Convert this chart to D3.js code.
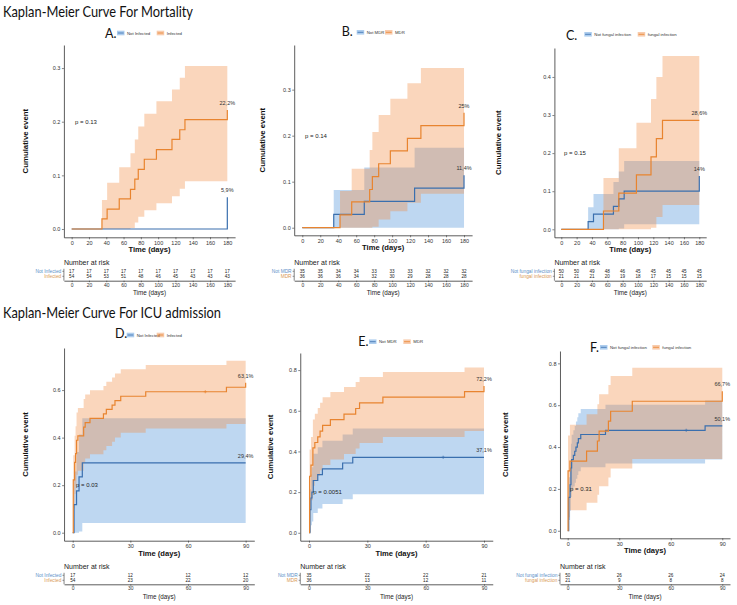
<!DOCTYPE html>
<html>
<head>
<meta charset="utf-8">
<script src="https://cdnjs.cloudflare.com/ajax/libs/d3/7.8.5/d3.min.js"></script>
<style>
  body { margin: 0; background: #fff; }
  svg { display: block; }
  text { font-family: "Liberation Sans", Arial, sans-serif; }
</style>
</head>
<body>
<svg id="fig" width="737" height="605"></svg>
<script>
// ---- tick labels ----
const mortTicks = [0, 20, 40, 60, 80, 100, 120, 140, 160, 180];
const icuTicks = [0, 30, 60, 90];

// ---- A: mortality, infected vs not ----
const aNotT = [0, 180];
const aNotEst = [0, 0.059];
const aNotLo = [0, 0];
const aNotHi = [0, 0];
const aInfT = [0, 35, 41, 55, 68, 73, 77, 84, 98, 116, 125, 131, 180];
const aInfEst = [0, 0.019, 0.037, 0.056, 0.074, 0.093, 0.111, 0.130, 0.148, 0.167, 0.185, 0.204, 0.222];
const aInfLo = [0, 0, 0, 0, 0.002, 0.012, 0.023, 0.035, 0.048, 0.061, 0.075, 0.089, 0.089];
const aInfHi = [0, 0.054, 0.086, 0.115, 0.141, 0.167, 0.191, 0.215, 0.238, 0.260, 0.282, 0.304, 0.304];
const aRiskNot = [17, 17, 17, 17, 17, 17, 17, 17, 17, 17];
const aRiskInf = [54, 54, 53, 51, 48, 46, 45, 43, 43, 43];

// ---- B: mortality, MDR ----
const bNotT = [0, 35, 69, 125, 180];
const bNotEst = [0, 0.029, 0.057, 0.086, 0.114];
const bNotLo = [0, 0, 0, 0, 0];
const bNotHi = [0, 0.082, 0.131, 0.174, 0.174];
const bMdrT = [0, 42, 55, 75, 78, 85, 98, 117, 132, 180];
const bMdrEst = [0, 0.028, 0.056, 0.083, 0.111, 0.139, 0.167, 0.194, 0.222, 0.25];
const bMdrLo = [0, 0, 0, 0, 0.002, 0.018, 0.036, 0.054, 0.074, 0.074];
const bMdrHi = [0, 0.080, 0.128, 0.169, 0.208, 0.245, 0.280, 0.314, 0.347, 0.347];
const bRiskNot = [35, 35, 34, 34, 33, 33, 33, 32, 32, 32];
const bRiskMdr = [36, 36, 36, 34, 32, 30, 29, 28, 28, 28];

// ---- C: mortality, fungal ----
const cNotT = [0, 35, 42, 68, 75, 82, 180];
const cNotEst = [0, 0.02, 0.04, 0.06, 0.08, 0.10, 0.14];
const cNotLo = [0, 0, 0, 0, 0.002, 0.013, 0.013];
const cNotHi = [0, 0.058, 0.093, 0.124, 0.152, 0.179, 0.179];
const cFunT = [0, 55, 75, 98, 117, 124, 132, 180];
const cFunEst = [0, 0.048, 0.095, 0.143, 0.190, 0.238, 0.286, 0.286];
const cFunLo = [0, 0, 0, 0, 0.004, 0.032, 0.064, 0.064];
const cFunHi = [0, 0.135, 0.213, 0.280, 0.342, 0.400, 0.455, 0.455];
const cRiskNot = [50, 50, 49, 48, 46, 45, 45, 45, 45, 45];
const cRiskFun = [21, 21, 21, 20, 19, 18, 17, 15, 15, 15];

// ---- D: ICU, infected ----
const dNotT = [0, 0.7, 2, 3.3, 5, 90];
const dNotEst = [0, 0.118, 0.176, 0.235, 0.294, 0.294];
const dNotLo = [0, 0, 0, 0.005, 0.041, 0.041];
const dNotHi = [0, 0.258, 0.339, 0.413, 0.481, 0.481];
const dInfT = [0, 0.3, 1, 1.5, 2, 2.7, 5.7, 6.5, 9, 16, 17.5, 20.5, 22, 25, 38, 80, 90];
const dInfEst = [0, 0.222, 0.296, 0.333, 0.389, 0.407, 0.444, 0.463, 0.481, 0.5, 0.519, 0.537, 0.556, 0.574, 0.593, 0.612, 0.631];
const dInfLo = [0, 0.103, 0.163, 0.195, 0.244, 0.261, 0.295, 0.312, 0.330, 0.347, 0.365, 0.383, 0.401, 0.420, 0.438, 0.457, 0.457];
const dInfHi = [0, 0.326, 0.408, 0.448, 0.506, 0.525, 0.562, 0.581, 0.599, 0.617, 0.635, 0.653, 0.670, 0.688, 0.705, 0.723, 0.723];
const dRiskNot = [17, 12, 12, 12];
const dRiskInf = [54, 23, 22, 20];

// ---- E: ICU, MDR ----
const eNotT = [0, 0.5, 1, 1.5, 2.2, 4.5, 6.9, 17.3, 22.5, 90];
const eNotEst = [0, 0.114, 0.171, 0.2, 0.257, 0.286, 0.314, 0.343, 0.371, 0.371];
const eNotLo = [0, 0.002, 0.037, 0.056, 0.097, 0.119, 0.142, 0.165, 0.189, 0.189];
const eNotHi = [0, 0.214, 0.287, 0.322, 0.389, 0.421, 0.452, 0.483, 0.513, 0.513];
const eMdrT = [0, 0.3, 1, 2, 3, 4.5, 5.7, 7, 11, 18, 24, 26, 38, 80, 90];
const eMdrEst = [0, 0.278, 0.333, 0.417, 0.444, 0.472, 0.5, 0.528, 0.556, 0.583, 0.611, 0.639, 0.667, 0.694, 0.722];
const eMdrLo = [0, 0.116, 0.160, 0.231, 0.256, 0.281, 0.307, 0.333, 0.360, 0.387, 0.414, 0.442, 0.471, 0.5, 0.5];
const eMdrHi = [0, 0.410, 0.471, 0.557, 0.585, 0.613, 0.639, 0.666, 0.692, 0.717, 0.742, 0.766, 0.790, 0.813, 0.813];
const eRiskNot = [35, 22, 22, 21];
const eRiskMdr = [36, 13, 12, 11];

// ---- F: ICU, fungal ----
const fNotT = [0, 0.6, 1.4, 1.9, 2.3, 3.3, 4.1, 4.8, 5.6, 6.2, 7.6, 22, 80, 90];
const fNotEst = [0, 0.16, 0.22, 0.30, 0.34, 0.36, 0.38, 0.40, 0.42, 0.44, 0.46, 0.48, 0.501, 0.501];
const fNotLo = [0, 0.052, 0.096, 0.161, 0.195, 0.212, 0.230, 0.248, 0.266, 0.284, 0.303, 0.321, 0.341, 0.341];
const fNotHi = [0, 0.256, 0.327, 0.416, 0.459, 0.480, 0.501, 0.522, 0.542, 0.562, 0.582, 0.602, 0.622, 0.622];
const fFunT = [0, 0.2, 1.3, 11, 17.3, 18.3, 23.7, 25, 37.6, 90];
const fFunEst = [0, 0.286, 0.333, 0.381, 0.429, 0.476, 0.524, 0.571, 0.619, 0.667];
const fFunLo = [0, 0.064, 0.098, 0.134, 0.172, 0.213, 0.254, 0.298, 0.343, 0.343];
const fFunHi = [0, 0.455, 0.507, 0.557, 0.605, 0.652, 0.696, 0.739, 0.779, 0.779];
const fRiskNot = [50, 26, 26, 24];
const fRiskFun = [21, 9, 8, 8];

// censored observations (time, cumulative event)
const dInfCens = [[69, 0.593]];
const eNotCens = [[69, 0.371]];
const fNotCens = [[69, 0.48]];

// ---- styling ----
const BLUE = '#3a6fae', ORANGE = '#e8842f';
const BLUE_FILL = '#4a90d9', ORANGE_FILL = '#f08c46';
const BLUE_TXT = '#5a90c8', ORANGE_TXT = '#d99a55';
const FILL_OP = 0.36;

const svg = d3.select('#fig');

// titles
svg.append('text').attr('x', 3).attr('y', 17)
  .attr('textLength', 190).attr('lengthAdjust', 'spacingAndGlyphs')
  .style('font-family', 'Lato, "Open Sans", sans-serif').style('font-size', '15px').attr('fill', '#111')
  .text('Kaplan-Meier Curve For Mortality');
svg.append('text').attr('x', 3).attr('y', 318)
  .attr('textLength', 218).attr('lengthAdjust', 'spacingAndGlyphs')
  .style('font-family', 'Lato, "Open Sans", sans-serif').style('font-size', '15px').attr('fill', '#111')
  .text('Kaplan-Meier Curve For ICU admission');

const rows = [
  {nar: 262.5, r1: 271.3, r2: 276.3, axis: 280.7, tick: 286.7, title: 292.7},
  {nar: 566.0, r1: 575.3, r2: 580.3, axis: 584.3, tick: 589.3, title: 596.7}
];

const ser = (t, est, lo, hi, cens) => ({t, est, lo, hi, cens: cens || []});

const panels = [
  {letter: 'A.', names: ['Not Infected', 'Infected'], row: 0,
   series: [ser(aNotT, aNotEst, aNotLo, aNotHi), ser(aInfT, aInfEst, aInfLo, aInfHi)],
   risk: [aRiskNot, aRiskInf], ticks: mortTicks, xMax: 180,
   left: 63.9, right: 235.1, top: 45, bottom: 237.3, yDom: [-0.0155, 0.343], yTicks: [0, 0.1, 0.2, 0.3],
   pval: 'p = 0.13', pX: 75, ylabX: 25, letterX: 105, letterY: 37.5,
   keyX: [117, 156.7], keyY: 33, ends: ['5,9%', '22,2%']},
  {letter: 'B.', names: ['Not MDR', 'MDR'], row: 0,
   series: [ser(bNotT, bNotEst, bNotLo, bNotHi), ser(bMdrT, bMdrEst, bMdrLo, bMdrHi)],
   risk: [bRiskNot, bRiskMdr], ticks: mortTicks, xMax: 180,
   left: 294.2, right: 472.1, top: 45, bottom: 235.3, yDom: [-0.0165, 0.397], yTicks: [0, 0.1, 0.2, 0.3],
   pval: 'p = 0.14', pX: 305, ylabX: 262.3, letterX: 341.7, letterY: 36,
   keyX: [356.7, 385], keyY: 32.3, ends: ['11,4%', '25%']},
  {letter: 'C.', names: ['Not fungal infection', 'fungal infection'], row: 0,
   series: [ser(cNotT, cNotEst, cNotLo, cNotHi), ser(cFunT, cFunEst, cFunLo, cFunHi)],
   risk: [cRiskNot, cRiskFun], ticks: mortTicks, xMax: 180,
   left: 554.4, right: 706.2, top: 48, bottom: 237.3, yDom: [-0.021, 0.476], yTicks: [0, 0.1, 0.2, 0.3, 0.4],
   pval: 'p = 0.15', pX: 564, ylabX: 498.3, letterX: 566, letterY: 40,
   keyX: [584.3, 637.7], keyY: 34.3, ends: ['14%', '28,6%']},
  {letter: 'D.', names: ['Not Infected', 'Infected'], row: 1,
   series: [ser(dNotT, dNotEst, dNotLo, dNotHi), ser(dInfT, dInfEst, dInfLo, dInfHi, dInfCens)],
   risk: [dRiskNot, dRiskInf], ticks: icuTicks, xMax: 90,
   left: 64.05, right: 254.3, top: 348, bottom: 540.7, yDom: [-0.0336, 0.777], yTicks: [0, 0.2, 0.4, 0.6],
   pval: 'p = 0.03', pX: 76, ylabX: 25, letterX: 115, letterY: 337.7,
   keyX: [126.7, 156.7], keyY: 335, ends: ['29,4%', '63,1%']},
  {letter: 'E.', names: ['Not MDR', 'MDR'], row: 1,
   series: [ser(eNotT, eNotEst, eNotLo, eNotHi, eNotCens), ser(eMdrT, eMdrEst, eMdrLo, eMdrHi)],
   risk: [eRiskNot, eRiskMdr], ticks: icuTicks, xMax: 90,
   left: 300.25, right: 492.75, top: 353, bottom: 540.7, yDom: [-0.039, 0.884], yTicks: [0, 0.2, 0.4, 0.6, 0.8],
   pval: 'p = 0.0051', pX: 313.3, ylabX: 270, letterX: 358.3, letterY: 345.7,
   keyX: [369, 403.3], keyY: 341.7, ends: ['37,1%', '72,2%']},
  {letter: 'F.', names: ['Not fungal infection', 'fungal infection'], row: 1,
   series: [ser(fNotT, fNotEst, fNotLo, fNotHi, fNotCens), ser(fFunT, fFunEst, fFunLo, fFunHi)],
   risk: [fRiskNot, fRiskFun], ticks: icuTicks, xMax: 90,
   left: 559.97, right: 730.0, top: 351, bottom: 538.3, yDom: [-0.036, 0.859], yTicks: [0, 0.2, 0.4, 0.6, 0.8],
   pval: 'p = 0.31', pX: 570, ylabX: 505, letterX: 590, letterY: 351.5,
   keyX: [600, 652.3], keyY: 347.3, ends: ['50,1%', '66,7%']}
];

const lineCols = [BLUE, ORANGE];
const fillCols = [BLUE_FILL, ORANGE_FILL];
const txtCols = [BLUE_TXT, ORANGE_TXT];

function styleAxis(g, fs) {
  g.selectAll('path.domain').attr('stroke', '#333').attr('stroke-width', 0.8);
  g.selectAll('.tick line').attr('stroke', '#333').attr('stroke-width', 0.6);
  g.selectAll('.tick text').style('font-size', fs + 'px').attr('fill', '#333')
    .style('font-family', '"Liberation Sans", Arial, sans-serif');
}

function drawPanel(p) {
  const g = svg.append('g');
  const x = d3.scaleLinear().domain([-0.05 * p.xMax, 1.05 * p.xMax]).range([p.left, p.right]);
  const y = d3.scaleLinear().domain(p.yDom).range([p.bottom, p.top]);

  // confidence bands
  p.series.forEach((s, k) => {
    const area = d3.area().curve(d3.curveStepAfter)
      .x(i => x(s.t[i])).y0(i => y(s.lo[i])).y1(i => y(s.hi[i]));
    g.append('path').datum(d3.range(s.t.length))
      .attr('d', area).attr('fill', fillCols[k]).attr('fill-opacity', FILL_OP);
  });

  // KM curves
  p.series.forEach((s, k) => {
    const line = d3.line().curve(d3.curveStepAfter)
      .x(i => x(s.t[i])).y(i => y(s.est[i]));
    g.append('path').datum(d3.range(s.t.length))
      .attr('d', line).attr('fill', 'none').attr('stroke', lineCols[k]).attr('stroke-width', 1.2);
    s.cens.forEach(c => {
      const cx = x(c[0]), cy = y(c[1]);
      g.append('path').attr('d', `M${cx - 1.6},${cy}H${cx + 1.6}M${cx},${cy - 1.6}V${cy + 1.6}`)
        .attr('stroke', lineCols[k]).attr('stroke-width', 0.7);
    });
    // end percentage label
    g.append('text').attr('x', x(p.xMax)).attr('y', y(s.est[s.est.length - 1]) - 7)
      .attr('text-anchor', 'middle').attr('dominant-baseline', 'central')
      .style('font-size', '5.5px').attr('fill', '#333').text(p.ends[k]);
  });

  // axes
  const gx = g.append('g').attr('transform', `translate(0,${p.bottom})`)
    .call(d3.axisBottom(x).tickValues(p.ticks).tickSize(2).tickPadding(1.5).tickSizeOuter(0));
  styleAxis(gx, 5.5);
  const gy = g.append('g').attr('transform', `translate(${p.left},0)`)
    .call(d3.axisLeft(y).tickValues(p.yTicks).tickFormat(d3.format('.1f')).tickSize(2).tickPadding(1.5).tickSizeOuter(0));
  styleAxis(gy, 5.5);

  // axis titles
  g.append('text').attr('x', (p.left + p.right) / 2).attr('y', p.bottom + 12.5)
    .attr('text-anchor', 'middle').attr('dominant-baseline', 'central')
    .style('font-size', '7.6px').style('font-weight', 'bold').attr('fill', '#111').text('Time (days)');
  g.append('text').attr('transform', `translate(${p.ylabX},${(p.top + p.bottom) / 2}) rotate(-90)`)
    .attr('text-anchor', 'middle').attr('dominant-baseline', 'central')
    .style('font-size', '7.8px').style('font-weight', 'bold').attr('fill', '#111').text('Cumulative event');

  // p value
  g.append('text').attr('x', p.pX).attr('y', y(0.2)).attr('dominant-baseline', 'central')
    .style('font-size', '6px').attr('fill', '#222').text(p.pval);

  // panel letter and legend
  g.append('text').attr('x', p.letterX).attr('y', p.letterY)
    .style('font-family', 'Lato, "Open Sans", sans-serif').style('font-size', '12.5px').attr('fill', '#111')
    .text(p.letter);
  p.names.forEach((nm, k) => {
    const kx = p.keyX[k];
    g.append('rect').attr('x', kx).attr('y', p.keyY - 2.3).attr('width', 7.5).attr('height', 4.6)
      .attr('fill', fillCols[k]).attr('fill-opacity', 0.45);
    g.append('line').attr('x1', kx + 0.8).attr('x2', kx + 6.7).attr('y1', p.keyY).attr('y2', p.keyY)
      .attr('stroke', lineCols[k]).attr('stroke-width', 0.8);
    g.append('text').attr('x', kx + 10).attr('y', p.keyY).attr('dominant-baseline', 'central')
      .style('font-size', '4.3px').attr('fill', '#333').text(nm);
  });

  // risk table
  const r = rows[p.row];
  g.append('text').attr('x', p.left).attr('y', r.nar).attr('dominant-baseline', 'central')
    .style('font-size', '7px').attr('fill', '#222').text('Number at risk');
  const ry = [r.r1, r.r2];
  g.append('line').attr('x1', p.left).attr('x2', p.left).attr('y1', r.r1 - 2.5).attr('y2', r.axis)
    .attr('stroke', '#333').attr('stroke-width', 0.6);
  p.risk.forEach((vals, k) => {
    g.append('text').attr('x', p.left - 2.6).attr('y', ry[k]).attr('text-anchor', 'end')
      .attr('dominant-baseline', 'central').style('font-size', '4.8px').attr('fill', txtCols[k]).text(p.names[k]);
    g.append('line').attr('x1', p.left - 1.6).attr('x2', p.left).attr('y1', ry[k]).attr('y2', ry[k])
      .attr('stroke', '#333').attr('stroke-width', 0.5);
    g.selectAll(null).data(vals).enter().append('text')
      .attr('x', (d, i) => x(p.ticks[i])).attr('y', ry[k])
      .attr('text-anchor', 'middle').attr('dominant-baseline', 'central')
      .style('font-size', '4.6px').attr('fill', '#222').text(d => d);
  });
  const gt = g.append('g').attr('transform', `translate(0,${r.axis})`)
    .call(d3.axisBottom(x).tickValues(p.ticks).tickSize(1.5).tickPadding(1).tickSizeOuter(0));
  styleAxis(gt, 5);
  g.append('text').attr('x', (p.left + p.right) / 2).attr('y', r.title)
    .attr('text-anchor', 'middle').attr('dominant-baseline', 'central')
    .style('font-size', '6.3px').attr('fill', '#222').text('Time (days)');
}

panels.forEach(drawPanel);
</script>
</body>
</html>
